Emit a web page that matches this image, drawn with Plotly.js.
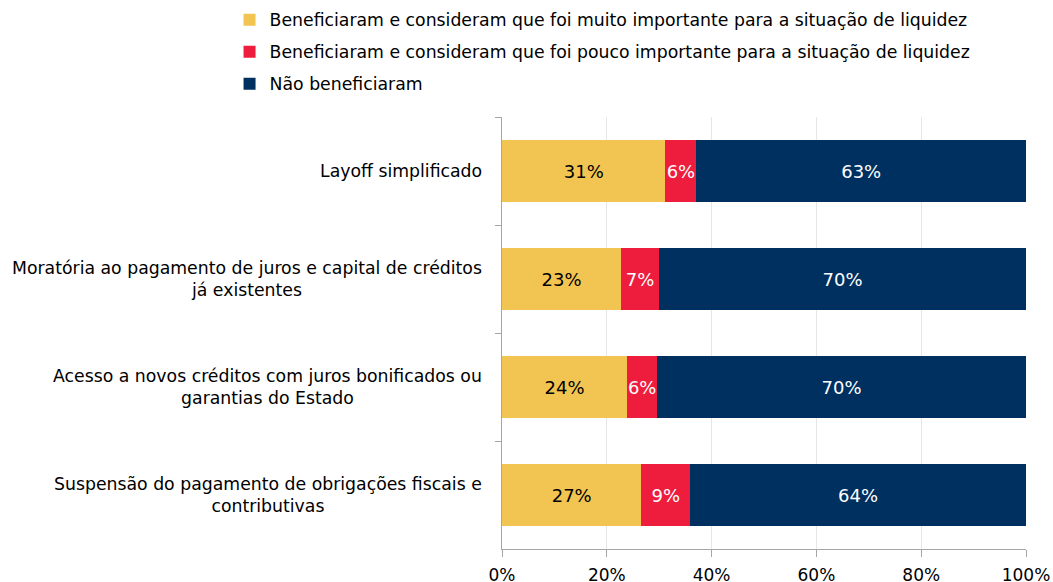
<!DOCTYPE html>
<html>
<head>
<meta charset="utf-8">
<script src="https://cdn.plot.ly/plotly-3.0.1.min.js"></script>
<style>html,body{margin:0;padding:0;background:#fff;}#chart{width:1053px;height:582px;}</style>
</head>
<body>
<div id="chart"></div>
<script>
var categories = [
  "Layoff simplificado",
  "Moratória ao pagamento de juros e capital de créditos<br>já existentes",
  "Acesso a novos créditos com juros bonificados ou<br>garantias do Estado",
  "Suspensão do pagamento de obrigações fiscais e<br>contributivas"
];
var seriesNames = [
  "Beneficiaram e consideram que foi muito importante para a situação de liquidez",
  "Beneficiaram e consideram que foi pouco importante para a situação de liquidez",
  "Não beneficiaram"
];
var muitoImportante = [31.2, 22.7, 23.9, 26.6];
var poucoImportante = [5.9, 7.3, 5.7, 9.3];
var naoBeneficiaram = [62.9, 70.0, 70.4, 64.1];
var xTickVals = [0, 20, 40, 60, 80, 100];
var xTickLabels = ["0%", "20%", "40%", "60%", "80%", "100%"];

var colors = ["#F2C552", "#EE1C3D", "#00305F"];
var textColors = ["#000000", "#FFFFFF", "#FFFFFF"];
var seriesValues = [muitoImportante, poucoImportante, naoBeneficiaram];
var FONT = "DejaVu Sans, Verdana, sans-serif";

var traces = seriesValues.map(function (vals, i) {
  return {
    type: "bar",
    orientation: "h",
    name: seriesNames[i],
    legendgroup: "g" + i,
    x: vals,
    y: categories,
    marker: {color: colors[i], line: {width: 0}},
    texttemplate: "%{x:.0f}%",
    textposition: "inside",
    insidetextanchor: "middle",
    textangle: 0,
    constraintext: "none",
    textfont: {family: FONT, size: 18, color: textColors[i]},
    hoverinfo: "skip"
  };
});

var annotations = categories.map(function (c) {
  return {
    xref: "paper", yref: "y", x: 0, y: c,
    xanchor: "right", yanchor: "middle", xshift: -18,
    text: c, showarrow: false, align: "center",
    font: {family: FONT, size: 17.3, color: "#000000"}
  };
});

var layout = {
  width: 1053, height: 582,
  paper_bgcolor: "#ffffff", plot_bgcolor: "#ffffff",
  barmode: "stack",
  bargap: 0.42,
  margin: {l: 502, r: 27, t: 117, b: 33, autoexpand: false},
  font: {family: FONT, size: 17, color: "#000000"},
  showlegend: true,
  legend: {
    orientation: "v",
    xref: "container", yref: "container",
    x: 0.218, y: 0.9966, xanchor: "left", yanchor: "top",
    traceorder: "grouped", tracegroupgap: 6.5,
    font: {family: FONT, size: 17.3, color: "#000000"},
    bgcolor: "rgba(0,0,0,0)"
  },
  xaxis: {
    range: [0, 100],
    tickmode: "array",
    tickvals: xTickVals,
    ticktext: xTickLabels,
    tickangle: 0,
    automargin: false,
    ticklabelstandoff: 4,
    showgrid: true, gridcolor: "#E6E6E6", gridwidth: 1,
    zeroline: false,
    showline: true, linecolor: "#A6A6A6", linewidth: 1,
    ticks: "outside", ticklen: 7, tickcolor: "#A6A6A6",
    tickfont: {family: FONT, size: 17, color: "#000000"},
    fixedrange: true
  },
  yaxis: {
    autorange: "reversed",
    type: "category",
    automargin: false,
    showticklabels: false,
    showgrid: false, zeroline: false,
    showline: true, linecolor: "#A6A6A6", linewidth: 1,
    ticks: "outside", ticklen: 6, tickcolor: "#A6A6A6",
    tickson: "boundaries",
    fixedrange: true
  },
  annotations: annotations
};

Plotly.newPlot("chart", traces, layout, {displayModeBar: false, staticPlot: true});
</script>
</body>
</html>
